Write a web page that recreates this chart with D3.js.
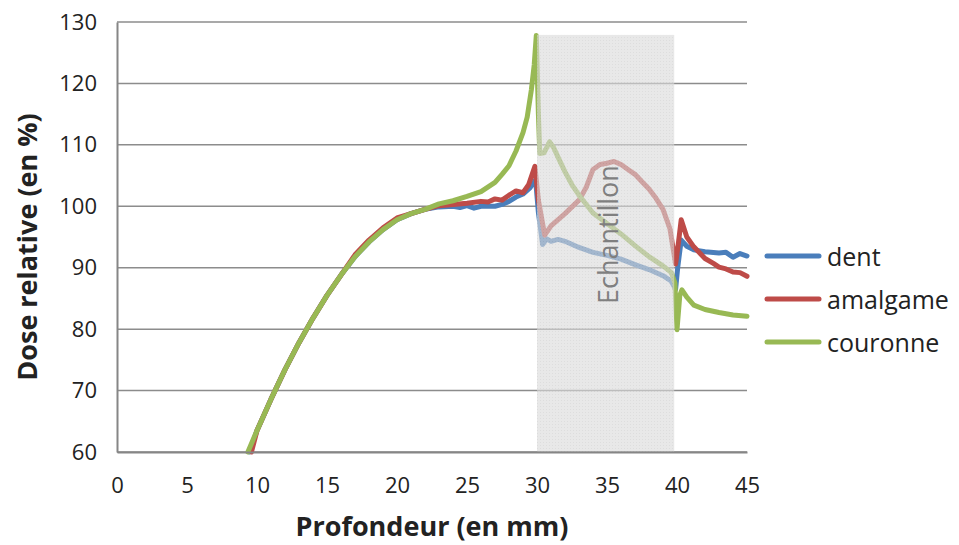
<!DOCTYPE html>
<html lang="fr">
<head>
    <meta charset="UTF-8">
    <title>Dose relative vs profondeur</title>
    <script src="https://d3js.org/d3.v7.min.js"></script>
    <style>
        body { margin: 0; background: #fff; }
        text { font-family: "Open Sans", Lato, sans-serif; fill: #222; }
    </style>
</head>
<body>
    <svg width="959" height="545"></svg>
    <script>
        // data: [profondeur mm, dose %]
        const buildUp = [[10, 63.5], [11, 68.6], [12, 73.4], [13, 77.8], [14, 81.8], [15, 85.5],
            [16, 88.8], [17, 91.8], [18, 94.2], [19, 96.2], [20, 97.8], [21, 98.8], [22, 99.5]];

        const dent = [[9.45, 60], ...buildUp, [23, 99.9], [24, 100.0], [24.5, 99.8], [25, 100.1], [25.5, 99.7],
            [26, 100], [27, 100], [27.5, 100.3], [28, 100.8], [28.5, 101.5], [29, 102], [29.5, 103],
            [29.9, 104.3], [30.1, 99], [30.4, 93.8], [30.7, 94.7], [31, 94.3], [31.5, 94.6], [32, 94.3],
            [33, 93.3], [34, 92.5], [35, 92], [36, 91.4], [37, 90.5], [38, 89.7], [39, 88.7], [39.6, 87.8],
            [39.9, 86.5], [40.05, 90], [40.3, 94.5], [40.7, 93.5], [41.2, 92.9], [42, 92.6], [43, 92.4],
            [43.5, 92.5], [44, 91.7], [44.5, 92.3], [45, 91.9]];

        const amalgame = [[9.6, 60], ...buildUp.map(d => [d[0], d[1] + (d[0] > 16 && d[0] < 21 ? 0.3 : 0)]),
            [23, 100.1], [24, 100.3], [25, 100.5], [26, 100.8], [26.5, 100.7], [27, 101.2], [27.5, 101],
            [28, 101.8], [28.5, 102.5], [29, 102.2], [29.4, 103.5], [29.85, 106.5], [30.1, 101], [30.55, 95.3],
            [31, 96.8], [32, 98.8], [33, 101], [33.5, 103], [34, 106], [34.5, 106.8], [35, 107], [35.5, 107.3],
            [36, 106.8], [36.5, 106], [37, 105.2], [37.5, 104], [38, 102.8], [38.5, 101.3], [39, 99.5],
            [39.5, 96.3], [39.8, 92], [39.9, 90.6], [40.1, 94], [40.3, 97.8], [40.7, 95], [41.2, 93.4],
            [42, 91.5], [42.6, 90.7], [43, 90.1], [43.5, 89.8], [44, 89.3], [44.5, 89.2], [45, 88.6]];

        const couronne = [[9.35, 60], ...buildUp, [23, 100.4], [24, 100.9], [25, 101.6], [26, 102.4],
            [27, 103.9], [27.5, 105.2], [28, 106.6], [28.5, 109], [29, 112], [29.3, 114.5], [29.6, 119],
            [29.8, 123], [29.95, 127.8], [30.1, 115], [30.2, 108.6], [30.5, 108.7], [30.9, 110.5], [31.2, 109.5],
            [31.5, 108], [32, 105.6], [32.5, 103.5], [33, 101.8], [34, 98.9], [35, 97.2], [36, 95.5], [37, 93.6],
            [38, 91.8], [39, 90.3], [39.6, 89.2], [39.85, 87.5], [40.0, 79.9], [40.2, 85.5], [40.35, 86.4],
            [40.7, 85.2], [41.2, 83.9], [42, 83.2], [43, 82.7], [44, 82.3], [45, 82.1]];

        const seriesNames = ["dent", "amalgame", "couronne"];
        const seriesColors = ["#4a7ebb", "#be4b48", "#98b954"];
        const seriesData = [dent, amalgame, couronne];

        const xTicks = [0, 5, 10, 15, 20, 25, 30, 35, 40, 45];
        const yTicks = [60, 70, 80, 90, 100, 110, 120, 130];
        const sample = { from: 30, to: 39.8, top: 127.9, label: "Echantillon" };

        const margin = { top: 22, left: 117, right: 212, bottom: 93 };
        const width = 959 - margin.left - margin.right;
        const height = 545 - margin.top - margin.bottom;

        const svg = d3.select("svg")
          .append("g")
            .attr("transform", `translate(${margin.left},${margin.top})`);

        const x = d3.scaleLinear().domain([0, 45]).range([0, width]);
        const y = d3.scaleLinear().domain([60, 130]).range([height, 0]);

        // pattern for the sample zone
        const defs = d3.select("svg").append("defs");
        const pat = defs.append("pattern")
            .attr("id", "dots")
            .attr("width", 3).attr("height", 3)
            .attr("patternUnits", "userSpaceOnUse");
        pat.append("rect").attr("width", 3).attr("height", 3).attr("fill", "#dadada");
        pat.append("rect").attr("width", 1).attr("height", 1).attr("fill", "#c8c8c8");

        // gridlines
        svg.append("g")
            .selectAll("line")
            .data(yTicks)
          .enter().append("line")
            .attr("x1", 0).attr("x2", width)
            .attr("y1", d => y(d)).attr("y2", d => y(d))
            .attr("stroke", "#8c8c8c")
            .attr("stroke-width", 1.5);

        // series
        const line = d3.line()
            .x(d => x(d[0]))
            .y(d => y(d[1]));

        svg.append("g")
            .selectAll("path")
            .data(seriesData)
          .enter().append("path")
            .attr("d", line)
            .attr("fill", "none")
            .attr("stroke", (d, i) => seriesColors[i])
            .attr("stroke-width", 5)
            .attr("stroke-linejoin", "round")
            .attr("stroke-linecap", "round");

        // sample zone drawn over the lines
        svg.append("rect")
            .attr("x", x(sample.from))
            .attr("width", x(sample.to) - x(sample.from))
            .attr("y", y(sample.top))
            .attr("height", y(60) - y(sample.top))
            .attr("fill", "url(#dots)")
            .attr("opacity", 0.62);

        svg.append("text")
            .attr("transform", `translate(${x(35)},${y(95.4)}) rotate(-90)`)
            .attr("text-anchor", "middle")
            .attr("dominant-baseline", "central")
            .style("font-size", "27px")
            .style("fill", "#7f7f7f")
            .text(sample.label);

        // axes
        const xAxis = svg.append("g")
            .attr("transform", `translate(0,${height})`)
            .call(d3.axisBottom(x).tickValues(xTicks).tickSize(0).tickPadding(25));
        const yAxis = svg.append("g")
            .call(d3.axisLeft(y).tickValues(yTicks).tickSize(0).tickPadding(20));

        [xAxis, yAxis].forEach(g => {
            g.select(".domain").attr("stroke", "#868686").attr("stroke-width", 2);
            g.selectAll("text").style("font-size", "22px").style("font-family", "'Open Sans', sans-serif").attr("fill", "#222");
        });

        // axis titles
        svg.append("text")
            .attr("x", 432 - margin.left)
            .attr("y", 536 - margin.top)
            .attr("text-anchor", "middle")
            .style("font-size", "27px")
            .style("font-weight", "bold")
            .text("Profondeur (en mm)");

        svg.append("text")
            .attr("transform", `translate(${37 - margin.left},${247 - margin.top}) rotate(-90)`)
            .attr("text-anchor", "middle")
            .style("font-size", "27px")
            .style("font-weight", "bold")
            .text("Dose relative (en %)");

        // legend
        const legend = svg.append("g")
            .attr("transform", `translate(${width + 20},${234})`)
            .selectAll("g")
            .data(seriesNames)
          .enter().append("g")
            .attr("transform", (d, i) => `translate(0,${i * 43})`);

        legend.append("line")
            .attr("x1", 0).attr("x2", 52)
            .attr("stroke", (d, i) => seriesColors[i])
            .attr("stroke-width", 5)
            .attr("stroke-linecap", "round");

        legend.append("text")
            .attr("x", 60)
            .attr("dominant-baseline", "central")
            .style("font-size", "25px")
            .text(d => d);
    </script>
</body>
</html>
